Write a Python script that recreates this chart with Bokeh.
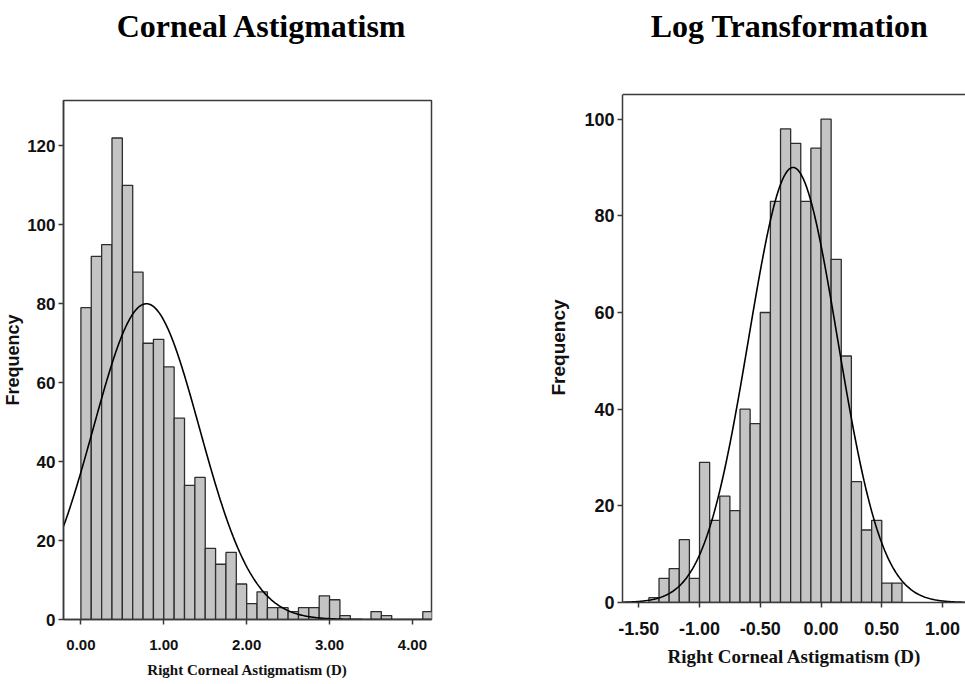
import numpy as np
from bokeh.plotting import figure
from bokeh.layouts import row, column
from bokeh.models import Range1d, FixedTicker, NumeralTickFormatter, ColumnDataSource
from bokeh.core.properties import value
from bokeh.embed import file_html
from bokeh.resources import INLINE

# ---------------- data: left panel (Corneal Astigmatism) ----------------
left_title = "Corneal Astigmatism"
left_xlabel = "Right Corneal Astigmatism (D)"
left_ylabel = "Frequency"
left_bin_start = 0.0
left_bin_width = 0.125
left_counts = [79, 92, 95, 122, 110, 88, 70, 71, 64, 51, 34, 36, 18, 14, 17, 9,
               4, 7, 3, 3, 2, 3, 3, 6, 5, 1, 0, 0, 2, 1, 0, 0, 0, 2]
left_curve_mean = 0.79
left_curve_sd = 0.64
left_curve_peak = 80.0
left_xticks = [0.0, 1.0, 2.0, 3.0, 4.0]
left_yticks = [0, 20, 40, 60, 80, 100, 120]

# ---------------- data: right panel (Log Transformation) ----------------
right_title = "Log Transformation"
right_xlabel = "Right Corneal Astigmatism (D)"
right_ylabel = "Frequency"
right_bin_start = -17 / 12
right_bin_width = 1 / 12
right_counts = [1, 5, 7, 13, 5, 29, 17, 22, 19, 40, 37, 60, 83, 98, 95, 83, 94,
                100, 71, 51, 25, 15, 17, 4, 4]
right_curve_mean = -0.23
right_curve_sd = 0.366
right_curve_peak = 90.0
right_xticks = [-1.5, -1.0, -0.5, 0.0, 0.5, 1.0]
right_yticks = [0, 20, 40, 60, 80, 100]

AXIS_COLOR = "#3a3a3a"


def title_figure(text, width, height, frame_w, center_x, center_from_top, size):
    # the column aligns this figure's frame with the plot frame below it,
    # so x is measured in pixels from the left edge of that frame
    t = figure(width=width, height=height, output_backend="svg", toolbar_location=None,
               x_range=Range1d(0, frame_w), y_range=Range1d(0, height), min_border=0,
               background_fill_color="white", border_fill_color="white")
    t.axis.visible = False
    t.xgrid.grid_line_color = None
    t.ygrid.grid_line_color = None
    t.outline_line_color = None
    t.text(x=[center_x], y=[height - center_from_top], text=[text],
           text_font=value("Liberation Serif"), text_font_style="bold",
           text_font_size=size, text_align="center", text_baseline="middle",
           text_color="black")
    return t


def make_panel(xlabel, ylabel, bin_start, bin_width, counts, mean, sd, peak,
               xticks, yticks, xr, yr, box_top, outline, frame, borders, fonts,
               ylabel_standoff, xtick_standoff, xlabel_standoff):
    p = figure(frame_width=frame[0], frame_height=frame[1],
               output_backend="svg", toolbar_location=None,
               x_range=Range1d(*xr), y_range=Range1d(*yr),
               min_border_left=borders[0], min_border_right=borders[1],
               min_border_top=borders[2], min_border_bottom=borders[3],
               background_fill_color="white", border_fill_color="white")
    p.xgrid.grid_line_color = None
    p.ygrid.grid_line_color = None
    if outline:
        p.outline_line_color = AXIS_COLOR
        p.outline_line_width = 1.5
    else:
        p.outline_line_color = None
        p.segment(x0=[xr[0]], y0=[box_top], x1=[xr[1]], y1=[box_top],
                  line_color=AXIS_COLOR, line_width=1.5)

    counts = np.array(counts, dtype=float)
    lefts = bin_start + bin_width * np.arange(len(counts))
    keep = counts > 0
    src = ColumnDataSource(dict(left=lefts[keep], right=lefts[keep] + bin_width,
                                top=counts[keep], bottom=np.zeros(keep.sum())))
    p.quad(left="left", right="right", top="top", bottom="bottom", source=src,
           fill_color="#c4c4c4", line_color="#2e2e2e", line_width=1.3)

    xs = np.linspace(xr[0], xr[1], 400)
    ys = peak * np.exp(-0.5 * ((xs - mean) / sd) ** 2)
    p.line(xs, ys, line_color="black", line_width=1.6)

    for ax in (p.xaxis[0], p.yaxis[0]):
        ax.axis_line_color = AXIS_COLOR
        ax.axis_line_width = 1.5
        ax.major_tick_line_color = AXIS_COLOR
        ax.major_tick_line_width = 1.5
        ax.major_tick_out = 5
        ax.major_tick_in = 0
        ax.minor_tick_line_color = None
        ax.major_label_text_font = "Liberation Sans"
        ax.major_label_text_font_style = "bold"
        ax.major_label_text_color = "#111111"

    xa = p.xaxis[0]
    xa.ticker = FixedTicker(ticks=xticks)
    xa.formatter = NumeralTickFormatter(format="0.00")
    xa.major_label_text_font_size = fonts["xtick"]
    xa.major_label_standoff = xtick_standoff
    xa.axis_label = xlabel
    xa.axis_label_text_font = "Liberation Serif"
    xa.axis_label_text_font_style = "bold"
    xa.axis_label_text_font_size = fonts["xlabel"]
    xa.axis_label_text_color = "#111111"
    xa.axis_label_standoff = xlabel_standoff

    ya = p.yaxis[0]
    ya.ticker = FixedTicker(ticks=yticks)
    ya.bounds = (0, box_top)
    ya.major_label_text_font_size = fonts["ytick"]
    ya.major_label_standoff = 3
    ya.axis_label = ylabel
    ya.axis_label_text_font = "Liberation Sans"
    ya.axis_label_text_font_style = "bold"
    ya.axis_label_text_font_size = fonts["ylabel"]
    ya.axis_label_text_color = "#111111"
    ya.axis_label_standoff = ylabel_standoff
    return p


left_top = title_figure(left_title, 470, 98, 368, 199, 25, "32px")
left = make_panel(left_xlabel, left_ylabel, left_bin_start, left_bin_width,
                  left_counts, left_curve_mean, left_curve_sd, left_curve_peak,
                  left_xticks, left_yticks,
                  xr=(-0.21, 4.23), yr=(0, 131.5), box_top=131.5, outline=True,
                  frame=(368, 519), borders=(62, 40, 2, 64),
                  fonts=dict(xtick="15px", ytick="17px", xlabel="15px", ylabel="18px"),
                  ylabel_standoff=1, xtick_standoff=15, xlabel_standoff=9)

right_top = title_figure(right_title, 495, 92, 344, 167, 25, "32px")
right = make_panel(right_xlabel, right_ylabel, right_bin_start, right_bin_width,
                   right_counts, right_curve_mean, right_curve_sd, right_curve_peak,
                   right_xticks, right_yticks,
                   xr=(-1.634, 1.1975), yr=(0, 105.51), box_top=105.1, outline=False,
                   frame=(344, 510), borders=(151, 0, 0, 81),
                   fonts=dict(xtick="18px", ytick="18px", xlabel="19px", ylabel="19px"),
                   ylabel_standoff=12, xtick_standoff=14, xlabel_standoff=8)

layout = row(column(left_top, left), column(right_top, right))
open("out.html", "w").write(file_html(layout, INLINE))
